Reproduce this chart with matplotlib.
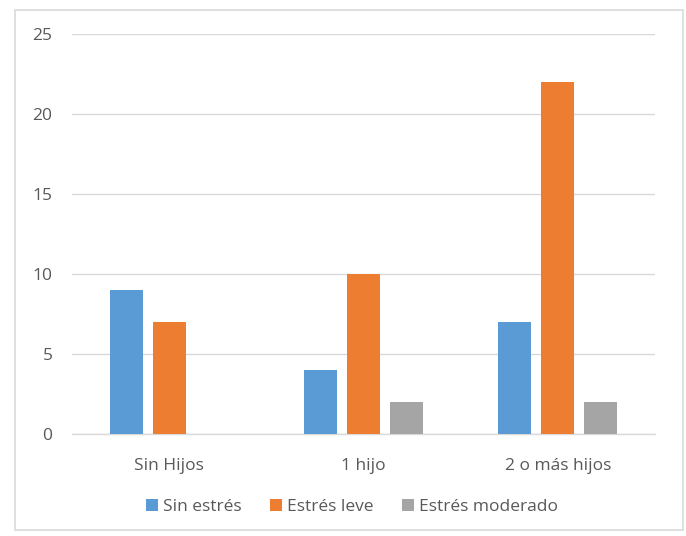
import numpy as np
import matplotlib.pyplot as plt
from matplotlib.patches import Rectangle

plt.rcParams['font.family'] = ['Open Sans', 'DejaVu Sans']

# data
categories = ['Sin Hijos', '1 hijo', '2 o más hijos']
series_names = ['Sin estrés', 'Estrés leve', 'Estrés moderado']
sin_estres = [9, 4, 7]
estres_leve = [7, 10, 22]
estres_moderado = [0, 2, 2]
yticks = [0, 5, 10, 15, 20, 25]

colors = ['#5B9BD5', '#ED7D31', '#A5A5A5']
text_color = '#595959'

fig = plt.figure(figsize=(6.86, 5.36), dpi=100)
# light border round the chart area
fig.patches.append(Rectangle((15 / 686, 6 / 536), 668 / 686, 520 / 536,
                             transform=fig.transFigure, fill=False,
                             edgecolor='#D9D9D9', linewidth=1.2))

ax = fig.add_axes([72 / 686, 1 - 434 / 536, 583 / 686, 400 / 536])

x = np.arange(len(categories))
width = 0.17
step = 0.222
for i, (vals, name) in enumerate(zip([sin_estres, estres_leve, estres_moderado], series_names)):
    ax.bar(x + (i - 1) * step, vals, width, color=colors[i], label=name, zorder=3)

ax.set_xlim(-0.5, len(categories) - 0.5)
ax.set_ylim(0, 25)
ax.set_yticks(yticks)
ax.set_xticks(x)
ax.set_xticklabels(categories)
ax.yaxis.grid(True, color='#D9D9D9', linewidth=1, zorder=0)
ax.tick_params(axis='both', length=0, labelsize=12.5, colors=text_color)
ax.tick_params(axis='x', pad=17)
ax.tick_params(axis='y', pad=14)
for side in ['top', 'right', 'left']:
    ax.spines[side].set_visible(False)
ax.spines['bottom'].set_color('#D9D9D9')
ax.spines['bottom'].set_linewidth(1)

leg = fig.legend(loc='center', bbox_to_anchor=(352 / 686, 1 - 507 / 536), ncol=3,
                 frameon=False, fontsize=12.5, handlelength=0.7, handleheight=0.7,
                 handletextpad=0.3, columnspacing=1.6)
for t in leg.get_texts():
    t.set_color(text_color)

fig.savefig('out.png', dpi=100)
